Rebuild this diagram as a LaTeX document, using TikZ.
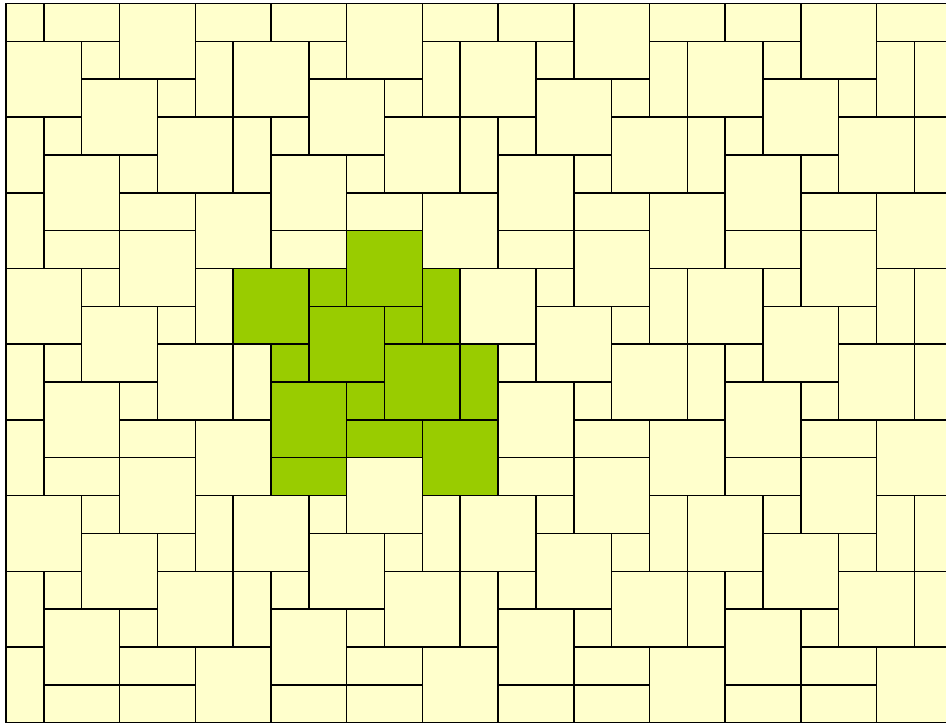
\documentclass[tikz,border=0pt]{standalone}
\usepackage{tikz}
\definecolor{tileyellow}{HTML}{FFFFCC}
\definecolor{tilegreen}{HTML}{99CC00}
\tikzset{
  tile/.style={fill=tileyellow, draw=black, line width=1.5pt, line join=miter},
  greentile/.style={fill=tilegreen, draw=black, line width=1.5pt, line join=miter},
  frameline/.style={draw=black, line width=1.5pt}
}
\begin{document}
\begin{tikzpicture}[x=1pt,y=-1pt]
\useasboundingbox (0,0) rectangle (946,723);
\begin{scope}
  \clip (6,3.5) rectangle (946,722.6);
  \begin{scope}[shift={(6,3.5)}, x=37.85pt, y=-37.85pt]
    \foreach \i in {-1,...,4} {
      \foreach \j in {-1,...,3} {
        \begin{scope}[shift={({6*(\i)},{6*(\j)})}]
          \foreach \a/\b/\w/\h in {3/0/2/2, 0/1/2/2, 2/2/2/2, 4/3/2/2, 1/4/2/2, 5/5/2/2,
                                   2/1/1/1, 4/2/1/1, 1/3/1/1, 3/4/1/1,
                                   5/1/1/2, 0/3/1/2, 1/0/2/1, 3/5/2/1}
            \path[tile] (\a,\b) rectangle ++(\w,\h);
        \end{scope}
      }
    }
    \foreach \a/\b/\w/\h in {6/7/2/2, 9/6/2/2, 8/8/2/2, 10/9/2/2, 7/10/2/2, 11/11/2/2,
                             8/7/1/1, 10/8/1/1, 7/9/1/1, 9/10/1/1,
                             11/7/1/2, 12/9/1/2, 9/11/2/1, 7/12/2/1}
      \path[greentile] (\a,\b) rectangle ++(\w,\h);
  \end{scope}
\end{scope}
\coordinate (tl) at (6,3.5);
\coordinate (tr) at (946,3.5);
\coordinate (bl) at (6,722.6);
\coordinate (br) at (946,722.6);
\draw[frameline] (tr) -- (tl) -- (bl) -- (br);
\end{tikzpicture}
\end{document}
